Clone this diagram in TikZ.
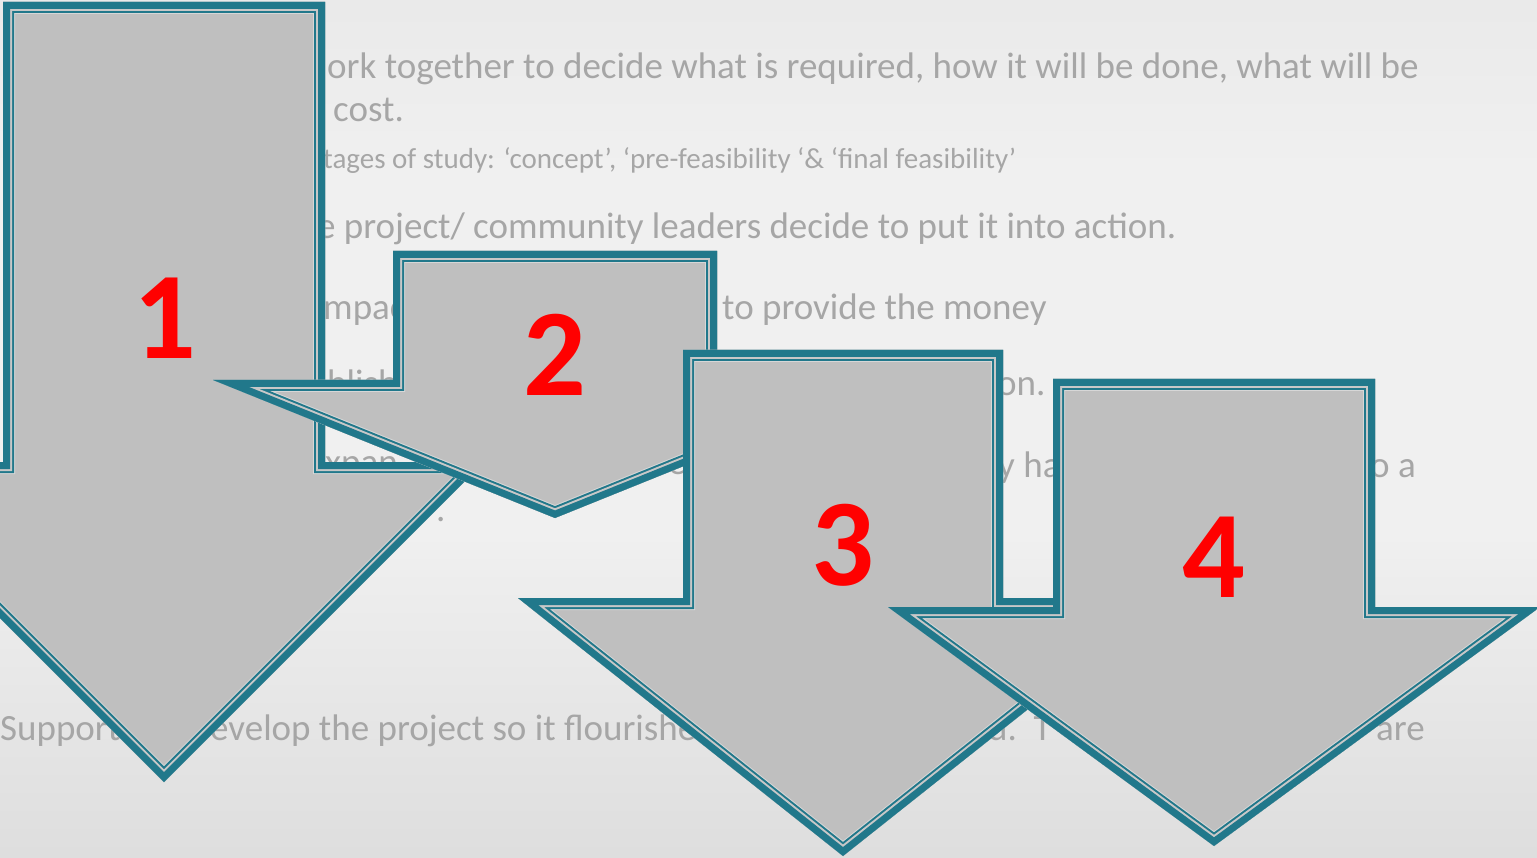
\documentclass[tikz,border=0pt]{standalone}
\usepackage{fontspec}
\setmainfont{Carlito}
\definecolor{arrline}{RGB}{33,120,139}
\definecolor{arrgap}{RGB}{200,200,200}
\definecolor{arrlight}{RGB}{215,215,215}
\definecolor{arrfill}{RGB}{191,191,191}
\definecolor{bgtop}{RGB}{218,218,218}
\definecolor{bgmid}{RGB}{240,240,240}
\definecolor{bgbot}{RGB}{198,198,198}
\definecolor{bgtext}{RGB}{166,166,166}
\pgfdeclareverticalshading{bgshade}{100bp}{color(0bp)=(bgbot); color(44bp)=(bgmid); color(65bp)=(bgmid); color(100bp)=(bgtop)}
\newcommand\bigarrow[7]{%
  \coordinate (#1-a) at ({#2-#3},#4);
  \coordinate (#1-b) at ({#2+#3},#4);
  \coordinate (#1-c) at ({#2+#3},#5);
  \coordinate (#1-d) at ({#2+#6},#5);
  \coordinate (#1-e) at (#2,#7);
  \coordinate (#1-f) at ({#2-#6},#5);
  \coordinate (#1-g) at ({#2-#3},#5);
  \begin{scope}
    \clip (#1-a) -- (#1-b) -- (#1-c) -- (#1-d) -- (#1-e) -- (#1-f) -- (#1-g) -- cycle;
    \fill[arrfill] (#1-a) -- (#1-b) -- (#1-c) -- (#1-d) -- (#1-e) -- (#1-f) -- (#1-g) -- cycle;
    \foreach \lw/\col in {24/arrlight,22/arrline,18/arrgap,14/arrline}
      \draw[line width=\lw pt, draw=\col, line join=miter, miter limit=20] (#1-a) -- (#1-b) -- (#1-c) -- (#1-d) -- (#1-e) -- (#1-f) -- (#1-g) -- cycle;
  \end{scope}}
\tikzset{
  bgt/.style={anchor=base west, inner sep=0pt, text=bgtext, font=\fontsize{37}{44}\selectfont},
  bgs/.style={anchor=base west, inner sep=0pt, text=bgtext, font=\fontsize{29}{34}\selectfont},
  num/.style={inner sep=0pt, text=red, font=\fontsize{124}{130}\selectfont\bfseries}
}
\begin{document}
\begin{tikzpicture}[x=1pt,y=-1pt]
\useasboundingbox (0,0) rectangle (1537,858);
\shade[shading=bgshade] (0,0) rectangle (1537,858);
% background text
\node[bgt] (t1) at (327,79) {ork together to decide what is required, how it will be done, what will be};
\node[bgt] (t2) at (333,122) {cost.};
\node[bgs] (t3) at (323,169) {tages of study: ‘concept’, ‘pre-feasibility ‘\& ‘final feasibility’};
\node[bgt] (t4) at (317,239) {e project/ community leaders decide to put it into action.};
\node[bgt] (t5) at (323,320) {mpac};
\node[bgt] (t6) at (722,320) {to provide the money};
\node[bgt] (t7) at (327,396) {blish};
\node[bgt] (t8) at (997,396) {on.};
\node[bgt] (t9) at (325,474) {xpan};
\node[bgt] (t16) at (668,474) {e};
\node[bgt] (t10) at (998,477) {y ha};
\node[bgt] (t11) at (1370,477) {o a};
\node[bgt] (t17) at (436,521) {.};
\node[bgt] (t12) at (0,740) {Support};
\node[bgt] (t13) at (210,740) {evelop the project so it flourishe};
\node[bgt] (t14) at (988,740) {d.\ \ T};
\node[bgt] (t15) at (1376,740) {are};
% arrows
\bigarrow{A1}{164}{161}{2}{462}{320}{782}
\bigarrow{A2}{555}{162}{251}{380}{342}{518}
\bigarrow{A3}{843}{160}{350}{598}{325}{856}
\bigarrow{A4}{1214}{161}{379}{607}{326}{846}
% numbers
\node[num] (n1) at (165,318) {1};
\node[num] (n2) at (555,355) {2};
\node[num] (n3) at (843,545) {3};
\node[num] (n4) at (1214,557) {4};
\end{tikzpicture}
\end{document}
